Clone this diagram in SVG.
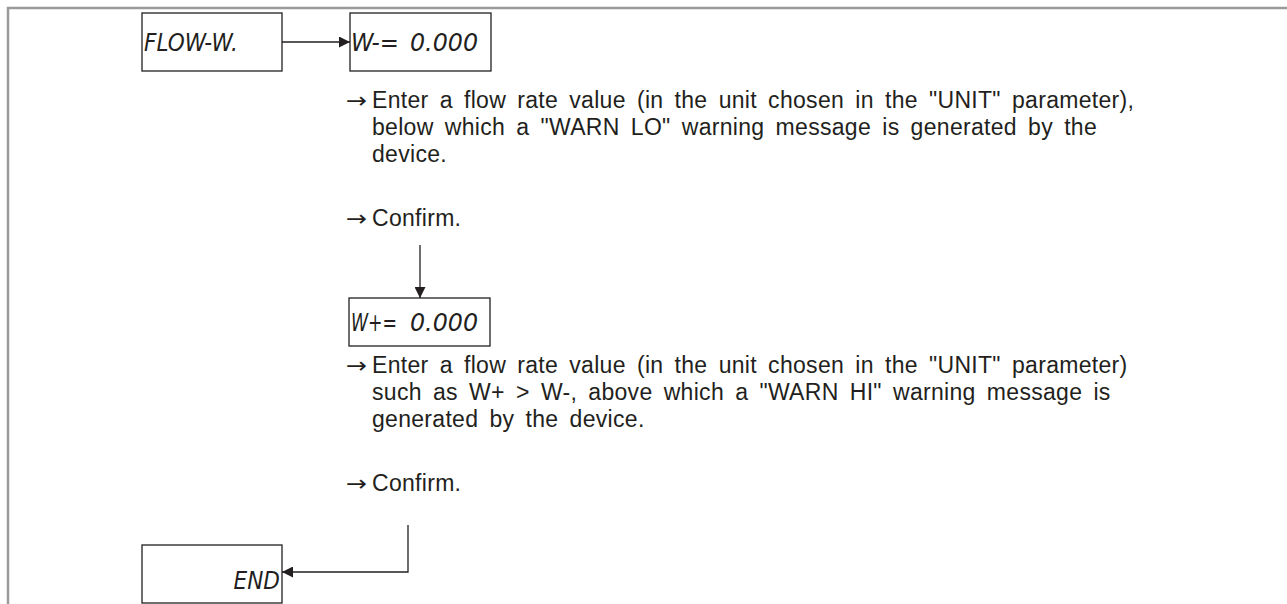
<svg xmlns="http://www.w3.org/2000/svg" width="1287" height="604" viewBox="0 0 1287 604">
<style>
.frame{fill:none;stroke:#9a9a9a;stroke-width:2.5}
.box{fill:#fff;stroke:#231f20;stroke-width:1.3}
.lcd{font-family:"DejaVu Sans Condensed","Liberation Sans Narrow",sans-serif;font-style:italic;font-size:24px;fill:#231f20}
.txt{font-family:"Liberation Sans",Arial,sans-serif;font-size:23px;fill:#231f20;letter-spacing:0.3px;word-spacing:4.5px}
.arr{font-family:"DejaVu Sans",sans-serif;font-size:22px;fill:#231f20}
.line{fill:none;stroke:#231f20;stroke-width:1.3}
</style>
<defs>
<marker id="ah" viewBox="0 0 10 10" refX="10" refY="5" markerWidth="11" markerHeight="11" markerUnits="userSpaceOnUse" orient="auto">
<path d="M0,0 L10,5 L0,10 Z" fill="#231f20"/>
</marker>
</defs>
<path class="frame" d="M8,604 V8 H1287"/>
<g id="node-flow-w">
<rect class="box" x="142" y="13" width="140" height="58"/>
<text class="lcd" x="144" y="51">FLOW-W.</text>
</g>
<g id="node-w-minus">
<rect class="box" x="350" y="13" width="141" height="58"/>
<text class="lcd" x="351" y="51"><tspan textLength="48" lengthAdjust="spacingAndGlyphs">W-=</tspan><tspan x="410" textLength="68" lengthAdjust="spacingAndGlyphs">0.000</tspan></text>
</g>
<g id="text-1">
<text class="arr" transform="translate(346,108) scale(1.15,1)">→</text>
<text class="txt" x="372" y="108">Enter a flow rate value (in the unit chosen in the "UNIT" parameter),</text>
<text class="txt" x="372" y="135">below which a "WARN LO" warning message is generated by the</text>
<text class="txt" x="372" y="162">device.</text>
<text class="arr" transform="translate(346,226) scale(1.15,1)">→</text>
<text class="txt" x="372" y="226">Confirm.</text>
</g>
<g id="node-w-plus">
<rect class="box" x="349" y="298" width="141" height="48"/>
<text class="lcd" x="351" y="331"><tspan textLength="46" lengthAdjust="spacingAndGlyphs">W+=</tspan><tspan x="410" textLength="68" lengthAdjust="spacingAndGlyphs">0.000</tspan></text>
</g>
<g id="text-2">
<text class="arr" transform="translate(346,373) scale(1.15,1)">→</text>
<text class="txt" x="372" y="373">Enter a flow rate value (in the unit chosen in the "UNIT" parameter)</text>
<text class="txt" x="372" y="400">such as W+ &gt; W-, above which a "WARN HI" warning message is</text>
<text class="txt" x="372" y="427">generated by the device.</text>
<text class="arr" transform="translate(346,491) scale(1.15,1)">→</text>
<text class="txt" x="372" y="491">Confirm.</text>
</g>
<g id="node-end">
<rect class="box" x="142" y="545" width="140" height="58"/>
<text class="lcd" x="280" y="589" text-anchor="end">END</text>
</g>
<g id="connectors">
<line class="line" x1="282" y1="42" x2="350" y2="42" marker-end="url(#ah)"/>
<line class="line" x1="420" y1="245" x2="420" y2="298" marker-end="url(#ah)"/>
<polyline class="line" points="408,525 408,572 282,572" marker-end="url(#ah)"/>
</g>
</svg>
